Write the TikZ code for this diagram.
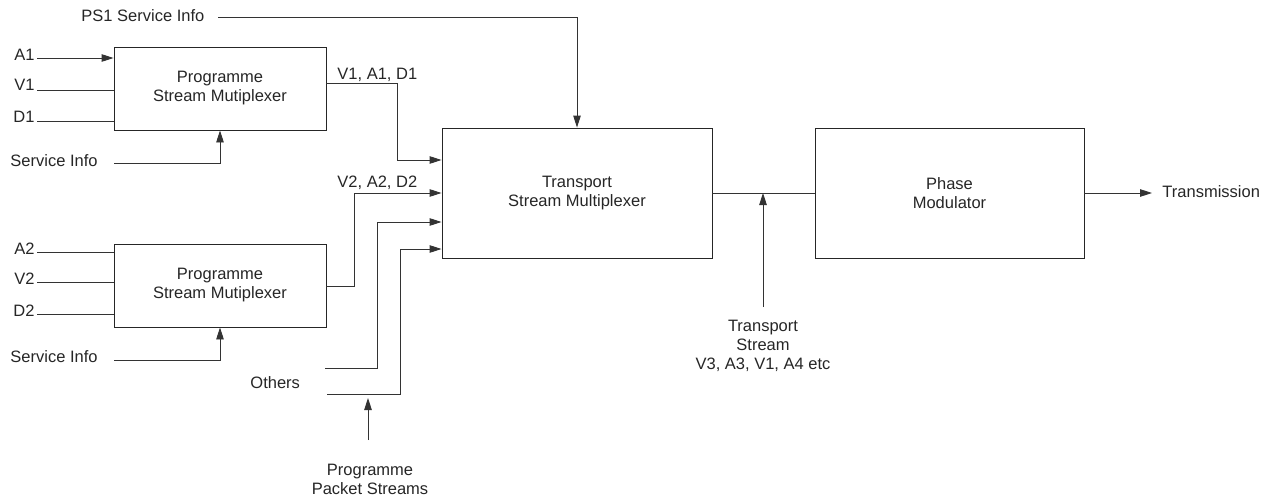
\documentclass[tikz,border=0pt]{standalone}
\usepackage{fontspec}
\setmainfont{Liberation Sans}
\usetikzlibrary{arrows.meta}
\begin{document}
\begin{tikzpicture}[x=1pt,y=-1pt,
  font=\fontsize{16.5}{19}\selectfont,
  line width=0.9pt, draw=black!80, text=black!85,
  >={Triangle[length=12pt,width=7.5pt]},
  box/.style={draw=black!85, align=center, inner sep=0pt},
  lbl/.style={inner sep=0pt, align=center}]
\useasboundingbox (0,0) rectangle (1266,503);
% boxes
\node[box, minimum width=212pt, minimum height=83pt] (psm1) at (220,88.5) {Programme\\Stream Mutiplexer};
\node[box, minimum width=212pt, minimum height=83pt] (psm2) at (220,285.5) {Programme\\Stream Mutiplexer};
\node[box, minimum width=270pt, minimum height=130pt] (tsm) at (577,193) {Transport\\Stream Multiplexer};
\node[box, minimum width=269pt, minimum height=130pt] (pm) at (949.5,193) {Phase\\Modulator};
% input labels PSM1
\node[lbl, anchor=base east] (a1) at (35,61) {A1};
\node[lbl, anchor=base east] (v1) at (35,91) {V1};
\node[lbl, anchor=base east] (d1) at (35,122) {D1};
\node[lbl, anchor=base west] (si1) at (10,166) {Service Info};
\coordinate (a1s) at (37,58);
\coordinate (v1s) at (37,90);
\coordinate (d1s) at (37,121);
\coordinate (si1s) at (114,163);
\draw[->] (a1s) -- (psm1.west |- a1s);
\draw (v1s) -- (psm1.west |- v1s);
\draw (d1s) -- (psm1.west |- d1s);
\draw[->] (si1s) -| (psm1.south);
% input labels PSM2
\node[lbl, anchor=base east] (a2) at (35,254) {A2};
\node[lbl, anchor=base east] (v2) at (35,284) {V2};
\node[lbl, anchor=base east] (d2) at (35,316) {D2};
\node[lbl, anchor=base west] (si2) at (10,362) {Service Info};
\coordinate (a2s) at (37,252);
\coordinate (v2s) at (37,282);
\coordinate (d2s) at (37,314);
\coordinate (si2s) at (114,360);
\draw (a2s) -- (psm2.west |- a2s);
\draw (v2s) -- (psm2.west |- v2s);
\draw (d2s) -- (psm2.west |- d2s);
\draw[->] (si2s) -| (psm2.south);
% PS1 service info
\node[lbl, anchor=base west] (ps1) at (81,22) {PS1 Service Info};
\coordinate (ps1s) at (218,17);
\draw[->] (ps1s) -| (tsm.north);
% outputs of PSMs to TSM
\draw[->] (psm1.east |- 0,83) -- (397,83) -- (397,160) -- (tsm.west |- 0,160);
\node[lbl, anchor=base west] (v1l) at (337,80) {V1, A1, D1};
\draw[->] (psm2.east |- 0,286) -- (354,286) -- (354,193) -- (tsm.west |- 0,193);
\node[lbl, anchor=base west] (v2l) at (337,187) {V2, A2, D2};
% others and packet streams
\node[lbl, anchor=base west] (oth) at (250,388) {Others};
\coordinate (oths) at (325,368);
\coordinate (pkts) at (327,394);
\draw[->] (oths) -- (377,368) -- (377,222) -- (tsm.west |- 0,222);
\draw[->] (pkts) -- (400,394) -- (400,249) -- (tsm.west |- 0,249);
\node[lbl, anchor=north] (pps) at (370,464) {Programme\\Packet Streams};
\coordinate (ppsa) at (368,398);
\draw[->] (pps.north -| ppsa) ++(0,-24) -- (ppsa);
% TSM to PM
\draw (tsm.east) -- (pm.west);
\coordinate (tsj) at (763,193);
\node[lbl, anchor=north] (tsl) at (763,320) {Transport\\Stream\\V3, A3, V1, A4 etc};
\draw[->] (763,307) -- (tsj);
% transmission
\node[lbl, anchor=west] (tx) at (1162,192) {Transmission};
\draw[->] (pm.east) -- (1152,193);
\end{tikzpicture}
\end{document}
